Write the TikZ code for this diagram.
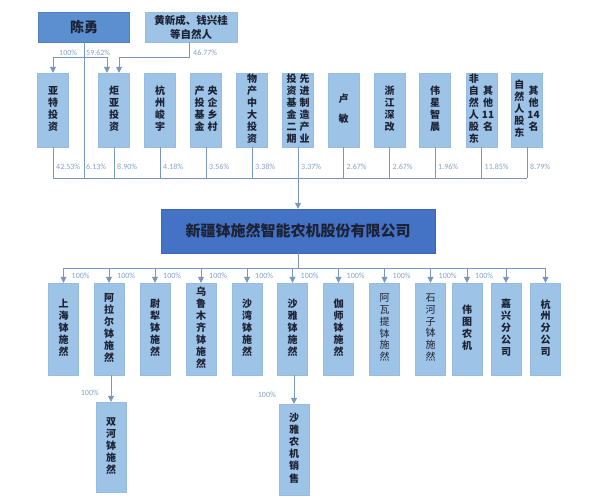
\documentclass[tikz,border=0pt]{standalone}
\usepackage{fontspec}
\newfontfamily\cjk{Noto Sans CJK SC}
\newfontfamily\pctfont{Carlito}
\usetikzlibrary{arrows.meta}
\definecolor{chenblue}{RGB}{91,143,208}
\definecolor{lightblue}{RGB}{157,195,230}
\definecolor{mainblue}{RGB}{68,114,196}
\definecolor{linkgray}{RGB}{120,150,190}
\definecolor{pctgray}{RGB}{135,162,200}
\definecolor{boxtext}{RGB}{28,34,52}
\newcommand{\vcol}[1]{\begin{tabular}[c]{@{}c@{}}#1\end{tabular}}
\tikzset{
	holderbox/.style={fill=lightblue, draw=lightblue!85!linkgray, line width=0.4pt,
		minimum width=31pt, minimum height=74pt, inner sep=0pt, text=boxtext,
		font=\cjk\bfseries\fontsize{10}{12}\selectfont},
	subbox/.style={holderbox, minimum width=30pt, minimum height=92pt,
		font=\cjk\bfseries\fontsize{10}{11.5}\selectfont},
	thinsub/.style={subbox, font=\cjk\fontsize{10}{11.5}\selectfont},
	chenbox/.style={holderbox, fill=chenblue, draw=chenblue!90!black, minimum width=91pt,
		minimum height=30pt, font=\cjk\bfseries\fontsize{14}{16}\selectfont},
	companybox/.style={holderbox, fill=mainblue, draw=mainblue!90!black, minimum width=274pt,
		minimum height=44pt, font=\cjk\bfseries\fontsize{15}{17}\selectfont},
	pctlabel/.style={text=pctgray, font=\pctfont\fontsize{8}{8}\selectfont, inner sep=0pt, anchor=west},
	link/.style={draw=linkgray, line width=0.8pt},
	feed/.style={link, -{Triangle[width=6pt,length=6pt]}},
}
\begin{document}
\begin{tikzpicture}[x=1pt, y=-1pt]
	\fill[white] (0,0) rectangle (602,500);
	\useasboundingbox (0,0) rectangle (602,500);

	\coordinate (split) at (0,57);
	\coordinate (bus) at (0,178);
	\coordinate (lbl) at (0,167);
	\coordinate (subbus) at (0,268);
	\coordinate (sublbl) at (0,276);

	\node[chenbox] (chen) at (84,27) {陈勇};
	\node[holderbox, minimum width=92pt, minimum height=30pt, align=center,
		font=\cjk\bfseries\fontsize{10.5}{14}\selectfont] (huang) at (191,27) {黄新成、钱兴桂\\等自然人};

	\node[holderbox] (h1) at (53,110) {\vcol{亚\\特\\投\\资}};
	\node[holderbox] (h2) at (114,110) {\vcol{炬\\亚\\投\\资}};
	\node[holderbox] (h3) at (160,110) {\vcol{杭\\州\\峻\\宇}};
	\node[holderbox] (h4) at (206,110) {\vcol{产\\投\\基\\金}\hspace{3pt}\vcol{央\\企\\乡\\村}};
	\node[holderbox] (h5) at (252,110) {\vcol{物\\产\\中\\大\\投\\资}};
	\node[holderbox] (h6) at (298,110) {\vcol{投\\资\\基\\金\\二\\期}\hspace{3pt}\vcol{先\\进\\制\\造\\产\\业}};
	\node[holderbox] (h7) at (343.5,110) {\vcol{卢\\[8pt]敏}};
	\node[holderbox] (h8) at (389.5,110) {\vcol{浙\\江\\深\\改}};
	\node[holderbox] (h9) at (435,110) {\vcol{伟\\星\\智\\晨}};
	\node[holderbox] (h10) at (481.5,110) {\vcol{非\\自\\然\\人\\股\\东}\hspace{3pt}\vcol{其\\他\\11\\名}};
	\node[holderbox] (h11) at (527,110) {\vcol{自\\然\\人\\股\\东}\hspace{3pt}\vcol{其\\他\\14\\名}};

	\draw[link] (chen.south) -- (chen.south |- bus);
	\draw[link] (h1.north |- split) -- ([xshift=-7pt]h2.north |- split);
	\draw[feed] (h1.north |- split) -- (h1.north);
	\draw[feed] ([xshift=-7pt]h2.north |- split) -- ([xshift=-7pt]h2.north);
	\draw[feed] ([xshift=-2pt]huang.south) -- ([xshift=-2pt]huang.south |- split) -| ([xshift=5pt]h2.north);
	\node[pctlabel, anchor=south west] (p-chen1) at (59,56) {100\%};
	\node[pctlabel, anchor=south west] (p-chen2) at (86,56) {59.62\%};
	\node[pctlabel, anchor=south west] (p-huang) at (193,56) {46.77\%};

	\draw[link] (h1.south |- bus) -- (h11.south |- bus);
	\foreach \h/\p in {h1/42.53\%, h2/8.90\%, h3/4.18\%, h4/3.56\%, h5/3.38\%, h6/3.37\%,
		h7/2.67\%, h8/2.67\%, h9/1.96\%, h10/11.85\%, h11/8.79\%} {
		\draw[link] (\h.south) -- (\h.south |- bus);
		\node[pctlabel] (p-\h) at ([xshift=3pt]\h.south |- lbl) {\p};
	}
	\node[pctlabel] (p-chen3) at ([xshift=2pt]chen.south |- lbl) {6.13\%};

	\node[companybox] (xjb) at (298,231) {新疆钵施然智能农机股份有限公司};
	\draw[feed] (h6.south |- bus) -- (xjb.north);

	\node[subbox] (s1) at (63.5,329) {\vcol{上\\海\\钵\\施\\然}};
	\node[subbox] (s2) at (109,329) {\vcol{阿\\拉\\尔\\钵\\施\\然}};
	\node[subbox] (s3) at (155,329) {\vcol{尉\\犁\\钵\\施\\然}};
	\node[subbox] (s4) at (201,329) {\vcol{乌\\鲁\\木\\齐\\钵\\施\\然}};
	\node[subbox] (s5) at (247,329) {\vcol{沙\\湾\\钵\\施\\然}};
	\node[subbox] (s6) at (292.5,329) {\vcol{沙\\雅\\钵\\施\\然}};
	\node[subbox] (s7) at (338.5,329) {\vcol{伽\\师\\钵\\施\\然}};
	\node[thinsub] (s8) at (384.5,329) {\vcol{阿\\瓦\\提\\钵\\施\\然}};
	\node[thinsub] (s9) at (430.5,329) {\vcol{石\\河\\子\\钵\\施\\然}};
	\node[subbox] (s10) at (467,329) {\vcol{伟\\图\\农\\机}};
	\node[subbox] (s11) at (506,329) {\vcol{嘉\\兴\\分\\公\\司}};
	\node[subbox] (s12) at (545.5,329) {\vcol{杭\\州\\分\\公\\司}};

	\draw[link] (xjb.south) -- (xjb.south |- subbus);
	\draw[link] (s1.north |- subbus) -- (s12.north |- subbus);
	\foreach \s in {s1,s2,s3,s4,s5,s6,s7,s8,s9,s10,s11,s12}
		\draw[feed] (\s.north |- subbus) -- (\s.north);
	\foreach \s in {s1,s2,s3,s4,s5,s6,s7,s8,s9,s10}
		\node[pctlabel] (p-\s) at ([xshift=8pt]\s.north |- sublbl) {100\%};

	\node[subbox, minimum height=90pt] (shuanghe) at (111,447) {\vcol{双\\河\\钵\\施\\然}};
	\node[subbox, minimum height=91pt] (shaya) at (294,449.5) {\vcol{沙\\雅\\农\\机\\销\\售}};
	\draw[feed] (shuanghe.north |- s2.south) -- (shuanghe.north);
	\draw[feed] (shaya.north |- s6.south) -- (shaya.north);
	\node[pctlabel, anchor=east] (p-shuanghe) at (99,393) {100\%};
	\node[pctlabel, anchor=east] (p-shaya) at (276,395) {100\%};
\end{tikzpicture}
\end{document}
